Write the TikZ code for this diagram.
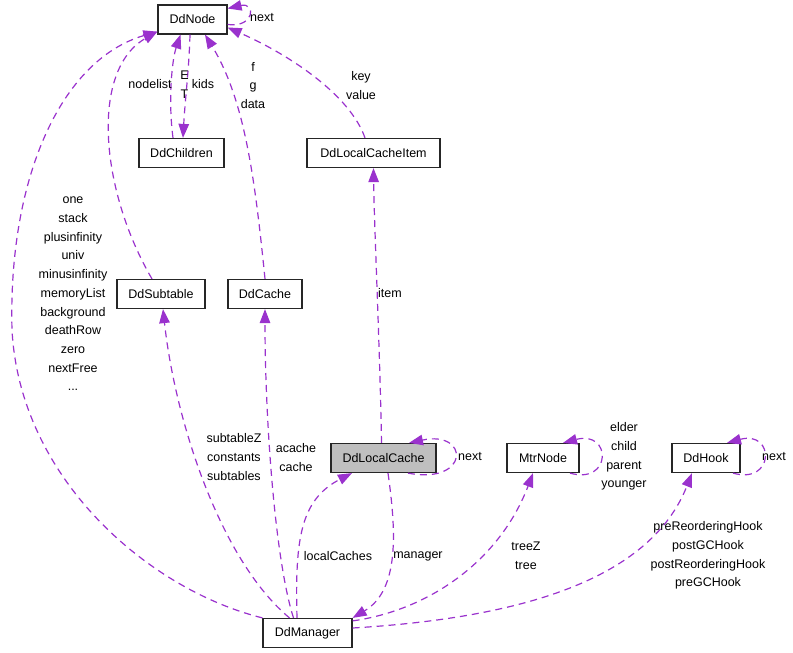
\documentclass[tikz,border=0pt]{standalone}
\usepackage{fontspec}
\setmainfont{Liberation Sans}
\usetikzlibrary{arrows.meta,calc}
\definecolor{edgec}{HTML}{9A32CD}
\definecolor{boxgray}{HTML}{BFBFBF}
\begin{document}
\begin{tikzpicture}[x=1pt,y=-1pt,
  cls/.style={draw=black!85,line width=1.2pt,minimum height=29pt,inner sep=0pt,
    font=\fontsize{12.5}{15}\selectfont},
  lbl/.style={align=center,inner sep=0pt,font=\fontsize{12.5}{18.7}\selectfont},
  rel/.style={draw=edgec,line width=1.2pt,dash pattern=on 7pt off 5pt,
    -{Triangle[length=14pt,width=10.5pt]}}]
\useasboundingbox (0,0) rectangle (793,653);
% classes
\node[cls,minimum width=69pt] (ddnode) at (192.5,19.5) {DdNode};
\node[cls,minimum width=85pt] (children) at (181.5,153) {DdChildren};
\node[cls,minimum width=133pt] (lci) at (373.5,153) {DdLocalCacheItem};
\node[cls,minimum width=88pt] (sub) at (161,294) {DdSubtable};
\node[cls,minimum width=74pt] (cache) at (265,294) {DdCache};
\node[cls,minimum width=105pt,fill=boxgray] (lc) at (383.5,458) {DdLocalCache};
\node[cls,minimum width=72pt] (mtr) at (543,458) {MtrNode};
\node[cls,minimum width=68pt] (hook) at (706,458) {DdHook};
\node[cls,minimum width=89pt] (mgr) at (307.5,633) {DdManager};
% edges
\draw[rel] (mgr.north west) .. controls (150,590) and (20,480) .. (12,330)
  .. controls (8,180) and (60,60) .. ($(ddnode.south west)+(0,-3)$);
\draw[rel] ($(sub.north)+(-9,0)$) .. controls (100,190) and (90,70) .. ($(ddnode.south west)+(0,-3)$);
\draw[rel] ($(children.north)+(-8.5,0)$) .. controls (168,100) and (172,60) .. ($(ddnode.south)+(-12,0)$);
\draw[rel] ($(ddnode.south)+(-2.5,0)$) .. controls (189,70) and (185,100) .. ($(children.north)+(1.5,0)$);
\draw[rel] (cache.north) .. controls (255,180) and (245,100) .. ($(ddnode.south)+(12.5,0)$);
\draw[rel] ($(lci.north)+(-8.5,0)$) .. controls (350,95) and (290,55) .. ($(ddnode.east)+(0,8)$);
\draw[rel] ($(ddnode.east)+(0,5)$) .. controls (255,28) and (256,2) .. ($(ddnode.east)+(0,-11)$);
\draw[rel] ($(lc.north)+(-2,0)$) .. controls (380,350) and (374,220) .. (lci.south);
\draw[rel] ($(lc.south)+(24.5,0)$) .. controls (470,485) and (470,430) .. ($(lc.north)+(25.5,0)$);
\draw[rel] ($(mgr.north)+(-10.5,0)$) .. controls (295,540) and (300,500) .. ($(lc.south)+(-31.5,0)$);
\draw[rel] ($(lc.south)+(4.5,0)$) .. controls (396,530) and (400,590) .. (mgr.north east);
\draw[rel] ($(mgr.north)+(-18,0)$) .. controls (220,560) and (175,420) .. ($(sub.south)+(2,0)$);
\draw[rel] ($(mgr.north)+(-14,0)$) .. controls (275,560) and (265,420) .. (cache.south);
\draw[rel] ($(mgr.north east)+(0,3)$) .. controls (430,610) and (500,560) .. ($(mtr.south)+(-10,0)$);
\draw[rel] ($(mgr.east)+(0,-5)$) .. controls (520,618) and (650,580) .. ($(hook.south)+(-14,0)$);
\draw[rel] ($(mtr.south)+(27,0)$) .. controls (612,485) and (612,430) .. ($(mtr.north)+(20,0)$);
\draw[rel] ($(hook.south)+(27,0)$) .. controls (775,485) and (775,430) .. ($(hook.north)+(21,0)$);
% labels
\node[lbl] (lmgrnode) at (73,294) {one\\stack\\plusinfinity\\univ\\minusinfinity\\memoryList\\background\\deathRow\\zero\\nextFree\\...};
\node[lbl] (lnodelist) at (150,84) {nodelist};
\node[lbl] (let) at (184.5,84.5) {E\\T};
\node[lbl] (lkids) at (203,84) {kids};
\node[lbl] (lfg) at (253,85.5) {f\\g\\data};
\node[lbl] (lkey) at (361,85.5) {key\\value};
\node[lbl] (lnext1) at (262,18) {next};
\node[lbl] (litem) at (390,293) {item};
\node[lbl] (lnext2) at (470,457) {next};
\node[lbl] (lloc) at (338,556) {localCaches};
\node[lbl] (lman) at (418,556) {manager};
\node[lbl] (lsub) at (234,457) {subtableZ\\constants\\subtables};
\node[lbl] (lcache) at (296,457.5) {acache\\cache};
\node[lbl] (ltree) at (526,556) {treeZ\\tree};
\node[lbl] (lhooks) at (708,555.5) {preReorderingHook\\postGCHook\\postReorderingHook\\preGCHook};
\node[lbl] (lmtr) at (624,456.5) {elder\\child\\parent\\younger};
\node[lbl] (lnext3) at (774,457) {next};
\end{tikzpicture}
\end{document}
